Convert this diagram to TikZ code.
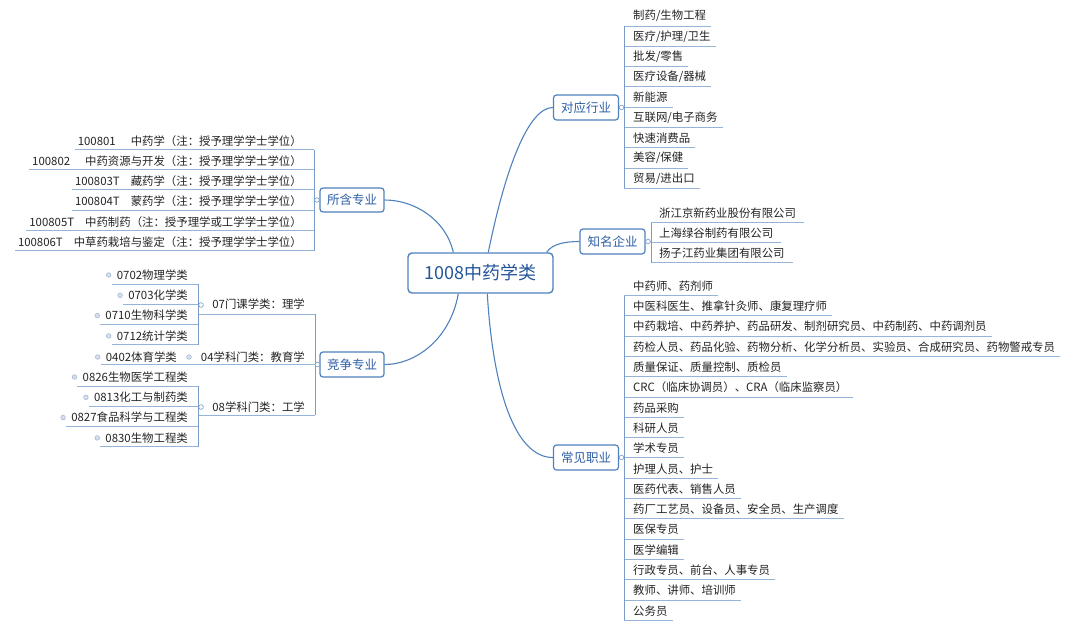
\documentclass[tikz,border=0pt]{standalone}
\usepackage{fontspec}
\setmainfont{Noto Sans CJK SC}
\usetikzlibrary{calc}
\definecolor{bord}{RGB}{79,129,189}
\definecolor{btext}{RGB}{45,95,165}
\definecolor{ctext}{RGB}{35,85,155}
\definecolor{ulc}{RGB}{150,180,215}
\definecolor{vlc}{RGB}{120,155,200}
\definecolor{ltext}{RGB}{35,35,35}
\definecolor{dotc}{RGB}{165,185,212}
\tikzset{
  centerbox/.style={draw=bord, line width=1.4pt, rounded corners=4pt, fill=white,
    minimum width=145pt, minimum height=40pt, inner sep=0,
    font=\fontsize{18}{20}\selectfont, text=ctext},
  branchbox/.style={draw=bord, line width=1.2pt, rounded corners=3pt, fill=white,
    minimum width=65pt, minimum height=25pt, inner sep=0,
    font=\fontsize{12.5}{14}\selectfont, text=btext},
  leafr/.style={anchor=west, inner sep=0, font=\fontsize{11.4}{13}\selectfont, text=ltext},
  leafl/.style={anchor=east, inner sep=0, font=\fontsize{11.4}{13}\selectfont, text=ltext},
  mainlink/.style={draw=bord, line width=1.1pt},
  ulst/.style={draw=ulc, line width=0.9pt},
  vlst/.style={draw=vlc, line width=0.9pt},
  knobst/.style={circle, draw=vlc, fill=white, line width=0.6pt, minimum size=4.6pt, inner sep=0},
  dotst/.style={circle, draw=dotc, fill=dotc!45, line width=0.6pt, minimum size=4.6pt, inner sep=0},
}
\begin{document}
\begin{tikzpicture}[x=1pt,y=-1pt]
\useasboundingbox (0,0) rectangle (1080,627);

% ---------- central and branch nodes ----------
\node[centerbox] (c) at (480.5,273) {1008中药学类};
\node[branchbox] (hy) at (586,107.5) {对应行业};
\node[branchbox] (qy) at (612.5,241.5) {知名企业};
\node[branchbox] (zy) at (586,457.5) {常见职业};
\node[branchbox, minimum width=64pt, minimum height=24pt] (sh) at (352,200) {所含专业};
\node[branchbox, minimum width=64pt] (jz) at (352,364.5) {竞争专业};

% ---------- main curves ----------
\draw[mainlink] ($(c.north west)+(81,0)$) .. controls (505,170) and (528,107.5) .. (hy.west);
\draw[mainlink] ($(c.north east)+(-7,0)$) .. controls (552,244) and (565,241.5) .. (qy.west);
\draw[mainlink] ($(c.north west)+(46,0)$) .. controls (446,220) and (415,200) .. (sh.east);
\draw[mainlink] ($(c.south west)+(51,0)$) .. controls (450,340) and (415,364.5) .. (jz.east);
\draw[mainlink] ($(c.south west)+(80,0)$) .. controls (493,390) and (515,457.5) .. (zy.west);

% ---------- 对应行业 ----------
\foreach \t [count=\i] in {{制药/生物工程},{医疗/护理/卫生},{批发/零售},{医疗设备/器械},{新能源},{互联网/电子商务},{快速消费品},{美容/保健},{贸易/进出口}} {
  \node[leafr] (a\i) at (633,{16+(\i-1)*20.3}) {\t};
  \coordinate (al\i) at (624,{26+(\i-1)*20.3});
  \draw[ulst] (al\i) -- ($(al\i -| a\i.east)+(5,0)$);
}
\draw[vlst] (al1) -- (al9);
\draw[vlst] (hy.east) -- (hy.east -| al1);
\node[knobst] (khy) at (621.5,107.5) {};

% ---------- 知名企业 ----------
\foreach \t [count=\i] in {{浙江京新药业股份有限公司},{上海绿谷制药有限公司},{扬子江药业集团有限公司}} {
  \node[leafr] (b\i) at (659,{213+(\i-1)*20}) {\t};
  \coordinate (bl\i) at (651,{222.5+(\i-1)*20});
  \draw[ulst] (bl\i) -- ($(bl\i -| b\i.east)+(8,0)$);
}
\draw[vlst] (bl1) -- (bl3);
\draw[vlst] (qy.east) -- (qy.east -| bl1);
\node[knobst] (kqy) at (648,241.5) {};

% ---------- 常见职业 ----------
\foreach \t [count=\i] in {{中药师、药剂师},{中医科医生、推拿针灸师、康复理疗师},{中药栽培、中药养护、药品研发、制剂研究员、中药制药、中药调剂员},{药检人员、药品化验、药物分析、化学分析员、实验员、合成研究员、药物警戒专员},{质量保证、质量控制、质检员},{CRC（临床协调员）、CRA（临床监察员）},{药品采购},{科研人员},{学术专员},{护理人员、护士},{医药代表、销售人员},{药厂工艺员、设备员、安全员、生产调度},{医保专员},{医学编辑},{行政专员、前台、人事专员},{教师、讲师、培训师},{公务员}} {
  \node[leafr] (j\i) at (633,{286+(\i-1)*20.3}) {\t};
  \coordinate (jl\i) at (624,{295.5+(\i-1)*20.3});
  \draw[ulst] (jl\i) -- ($(jl\i -| j\i.east)+(5,0)$);
}
\draw[vlst] (jl1) -- (jl17);
\draw[vlst] (zy.east) -- (zy.east -| jl1);
\node[knobst] (kzy) at (621.5,457.5) {};

% ---------- 所含专业 ----------
\foreach \cd/\nm/\g [count=\i] in {100801/中药学（注：授予理学学士学位）/15,100802/中药资源与开发（注：授予理学学士学位）/15,100803T/藏药学（注：授予理学学士学位）/11,100804T/蒙药学（注：授予理学学士学位）/11,100805T/中药制药（注：授予理学或工学学士学位）/11,100806T/中草药栽培与鉴定（注：授予理学学士学位）/11} {
  \node[leafl] (s\i) at (302,{141+(\i-1)*20.2}) {\cd\hspace{\g pt}\nm};
  \coordinate (sl\i) at (314,{149.5+(\i-1)*20.2});
  \draw[ulst] (sl\i) -- ($(sl\i -| s\i.west)+(-3,0)$);
}
\draw[vlst] (sl1) -- (sl6);
\draw[vlst] (sh.west) -- (sh.west -| sl1);
\node[knobst] (ksh) at (317,200) {};

% ---------- 竞争专业 ----------
\node[leafl] (m07) at (305,304) {07门课学类：理学};
\node[leafl] (m04) at (305,357) {04学科门类：教育学};
\node[leafl] (m08) at (305,407) {08学科门类：工学};
\coordinate (mr07) at (315,314);
\coordinate (mr04) at (315,364.5);
\coordinate (mr08) at (315,415);
\coordinate (ml07) at (198,314);
\coordinate (ml04) at (187,364.5);
\coordinate (ml08) at (198,415);
\draw[ulst] (mr07) -- (ml07);
\draw[ulst] (mr04) -- (ml04);
\draw[ulst] (mr08) -- (ml08);
\draw[vlst] (mr07) -- (mr08);
\draw[vlst] (jz.west) -- (mr04);
\node[knobst] (kjz) at (317.5,364.5) {};
\node[knobst] (k07) at (201,305) {};
\node[dotst] (k04) at (189,357) {};
\node[knobst] (k08) at (201,407) {};

% 07 leaves
\foreach \t [count=\i] in {{0702物理学类},{0703化学类},{0710生物科学类},{0712统计学类}} {
  \node[leafl] (p\i) at (188,{275+(\i-1)*20.3}) {\t};
  \node[dotst] (pd\i) at ($(p\i.west)+(-8,0)$) {};
  \coordinate (pl\i) at (198,{284+(\i-1)*20.3});
  \draw[ulst] (pl\i) -- ($(pl\i -| p\i.west)+(-5,0)$);
}
\draw[vlst] (pl1) -- (pl4);

% 04 leaf
\node[leafl] (q1) at (177,357) {0402体育学类};
\node[dotst] (qd1) at ($(q1.west)+(-8,0)$) {};
\draw[ulst] (ml04) -- ($(ml04 -| q1.west)+(-5,0)$);

% 08 leaves
\foreach \t [count=\i] in {{0826生物医学工程类},{0813化工与制药类},{0827食品科学与工程类},{0830生物工程类}} {
  \node[leafl] (r\i) at (188,{377+(\i-1)*20.3}) {\t};
  \node[dotst] (rd\i) at ($(r\i.west)+(-8,0)$) {};
  \coordinate (rl\i) at (198,{386+(\i-1)*20.3});
  \draw[ulst] (rl\i) -- ($(rl\i -| r\i.west)+(-5,0)$);
}
\draw[vlst] (rl1) -- (rl4);
\end{tikzpicture}
\end{document}
